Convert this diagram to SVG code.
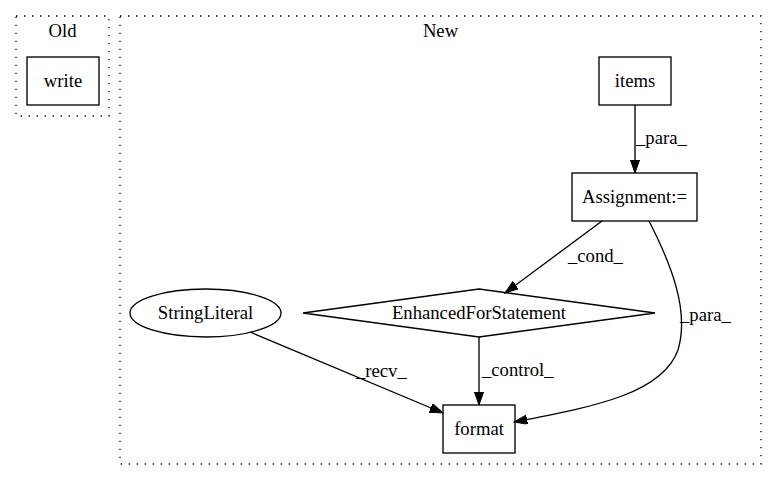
<svg xmlns="http://www.w3.org/2000/svg" width="777" height="480" viewBox="0 0 777 480">
<style>
text{font-family:"Liberation Serif","Times New Roman",serif;font-size:18.67px;fill:#000}
.c{text-anchor:middle}
.n{fill:#fff;stroke:#000;stroke-width:1.33}
.cl{fill:none;stroke:#000;stroke-width:1.33;stroke-dasharray:1.33,6.67}
.e{fill:none;stroke:#000;stroke-width:1.33;marker-end:url(#arr)}
</style>
<defs>
<marker id="arr" markerUnits="userSpaceOnUse" markerWidth="14" markerHeight="10" refX="13.3" refY="4.67" orient="auto">
<path d="M0,0 L13.3,4.67 L0,9.33 z" fill="#000" stroke="#000" stroke-width="1"/>
</marker>
</defs>
<rect width="777" height="480" fill="#fff"/>
<g id="cluster_old">
<rect class="cl" x="16" y="16" width="93" height="100"/>
<text class="c" x="62.5" y="36.5">Old</text>
</g>
<g id="cluster_new">
<rect class="cl" x="120" y="16" width="641" height="448"/>
<text class="c" x="440.5" y="36.5">New</text>
</g>
<g id="write">
<rect class="n" x="27" y="57" width="72" height="48"/>
<text class="c" x="63" y="86.5">write</text>
</g>
<g id="items">
<rect class="n" x="599" y="57" width="72" height="48"/>
<text class="c" x="635" y="86.5">items</text>
</g>
<g id="assignment">
<rect class="n" x="572" y="173" width="125" height="48"/>
<text class="c" x="634.5" y="202.5">Assignment:=</text>
</g>
<g id="enhancedfor">
<polygon class="n" points="479,289 655,313 479,337 303,313"/>
<text class="c" x="479" y="318.5">EnhancedForStatement</text>
</g>
<g id="stringliteral">
<ellipse class="n" cx="205.5" cy="313" rx="75.5" ry="24"/>
<text class="c" x="205.5" y="318.5">StringLiteral</text>
</g>
<g id="format">
<rect class="n" x="443" y="405" width="72" height="48"/>
<text class="c" x="479" y="434.5">format</text>
</g>
<g id="connectors">
<path class="e" d="M635,105 L635,173"/>
<text x="636" y="144">_para_</text>
<path class="e" d="M602,221 L505,293"/>
<text x="568" y="262">_cond_</text>
<path class="e" d="M649,221 C670,262 690,310 678,350 C663,392 600,406 514,422"/>
<text x="680" y="321">_para_</text>
<path class="e" d="M479,337 L479,405"/>
<text x="482" y="376">_control_</text>
<path class="e" d="M250,332 L443,413"/>
<text x="356" y="377">_recv_</text>
</g>
</svg>
